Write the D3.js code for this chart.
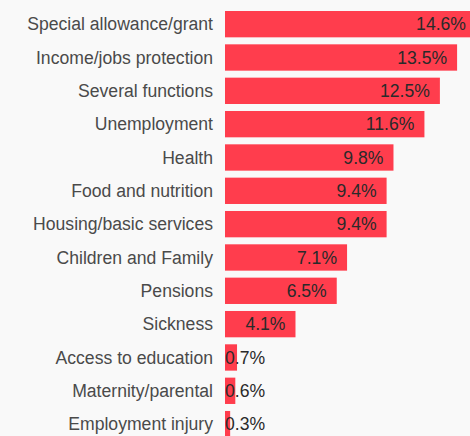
<!DOCTYPE html>
<html>
<head>
<meta charset="utf-8">
<script src="https://cdn.jsdelivr.net/npm/d3@7"></script>
<style>
  body { margin: 0; background: #f9f9f9; }
  svg { display: block; }
</style>
</head>
<body>
<div id="chart"></div>
<script>
// categories and their share (%), top to bottom
var categories = ["Special allowance/grant", "Income/jobs protection", "Several functions",
    "Unemployment", "Health", "Food and nutrition", "Housing/basic services",
    "Children and Family", "Pensions", "Sickness", "Access to education",
    "Maternity/parental", "Employment injury"];
var values = [14.6, 13.5, 12.5, 11.6, 9.8, 9.4, 9.4, 7.1, 6.5, 4.1, 0.7, 0.6, 0.3];

var width = 470, height = 436;
var left = 225;

var data = categories.map(function (c, i) { return {name: c, value: values[i]}; });

var svg = d3.select("#chart").append("svg")
    .attr("width", width)
    .attr("height", height);

var x = d3.scaleLinear()
    .domain([0, 14.6])
    .range([left, left + 251]);

var y = d3.scaleBand()
    .domain(categories)
    .range([7.5, 440.8])
    .paddingInner(0.21)
    .paddingOuter(0.105);

//bars
svg.selectAll(".bar")
    .data(data)
    .enter()
    .append("rect")
    .attr("class", "bar")
    .attr("x", x(0))
    .attr("y", function (d) { return y(d.name); })
    .attr("width", function (d) { return x(d.value) - x(0); })
    .attr("height", y.bandwidth())
    .attr("fill", "#ff3d4d");

//category labels on the left
svg.selectAll(".cat")
    .data(data)
    .enter()
    .append("text")
    .attr("class", "cat")
    .attr("x", left - 12)
    .attr("y", function (d) { return y(d.name) + y.bandwidth() / 2; })
    .attr("dy", "0.35em")
    .attr("text-anchor", "end")
    .style("font-family", "'Liberation Sans', Arial, sans-serif")
    .style("font-size", "17.6px")
    .style("fill", "#4a4a4a")
    .text(function (d) { return d.name; });

//value labels, right aligned inside the bar, pushed right when the bar is short
svg.selectAll(".val")
    .data(data)
    .enter()
    .append("text")
    .attr("class", "val")
    .attr("y", function (d) { return y(d.name) + y.bandwidth() / 2; })
    .attr("dy", "0.35em")
    .attr("text-anchor", "end")
    .style("font-family", "'Liberation Sans', Arial, sans-serif")
    .style("font-size", "17.6px")
    .style("fill", "#2a2a2a")
    .text(function (d) { return d.value.toFixed(1) + "%"; })
    .attr("x", function (d) {
        var w = this.getComputedTextLength();
        return Math.max(x(d.value) - 10, x(0) + w);
    });
</script>
</body>
</html>
